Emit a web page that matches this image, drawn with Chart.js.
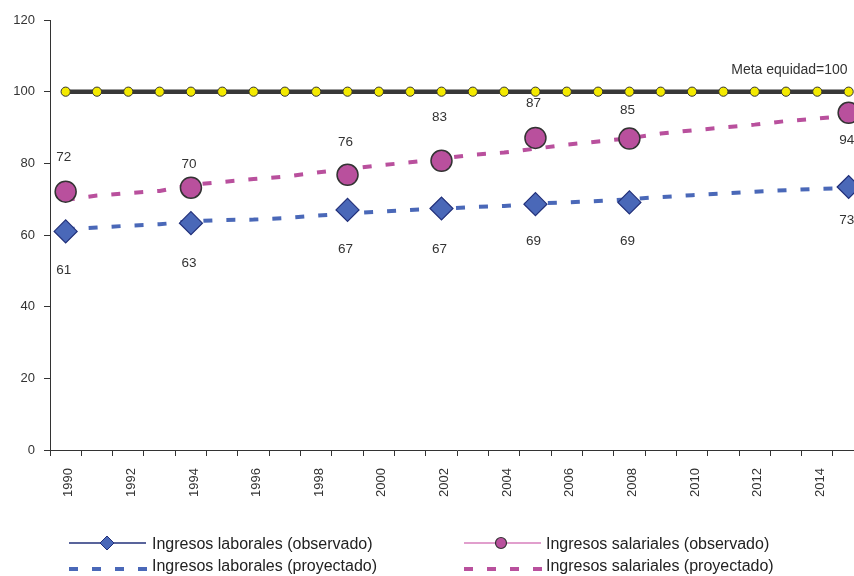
<!DOCTYPE html>
<html>
<head>
<meta charset="utf-8">
<script src="https://cdn.jsdelivr.net/npm/chart.js@4.4.1/dist/chart.umd.min.js"></script>
<style>
  html, body { margin: 0; padding: 0; background: #fff; overflow: hidden; }
  #wrap { width: 854px; height: 576px; overflow: hidden; }
  canvas { display: block; }
</style>
</head>
<body>
<div id="wrap"><canvas id="grafico" width="877" height="576"></canvas></div>
<script>
const anios = ["1990", "1991", "1992", "1993", "1994", "1995", "1996", "1997", "1998", "1999",
  "2000", "2001", "2002", "2003", "2004", "2005", "2006", "2007", "2008", "2009",
  "2010", "2011", "2012", "2013", "2014", "2015"];

const meta = [100, 100, 100, 100, 100, 100, 100, 100, 100, 100, 100, 100, 100,
  100, 100, 100, 100, 100, 100, 100, 100, 100, 100, 100, 100, 100];

const laboralesObs = [61.0, null, null, null, 63.3, null, null, null, null, 67.0,
  null, null, 67.4, null, null, 68.6, null, null, 69.1, null,
  null, null, null, null, null, 73.4];
const salarialesObs = [72.1, null, null, null, 73.2, null, null, null, null, 76.8,
  null, null, 80.7, null, null, 87.1, null, null, 86.9, null,
  null, null, null, null, null, 94.1];

const laboralesProy = [61.6, 62.1, 62.6, 63.0, 63.8, 64.2, 64.3, 64.7, 65.4, 66.0,
  66.5, 67.0, 67.3, 67.8, 68.1, 68.8, 69.1, 69.5, 70.0, 70.6,
  71.1, 71.6, 72.1, 72.5, 72.9, 73.1];
const salarialesProy = [69.8, 71.0, 71.7, 72.3, 74.0, 74.8, 75.6, 76.3, 77.4, 78.4,
  79.4, 80.3, 81.3, 82.4, 83.0, 84.1, 85.2, 86.1, 87.0, 88.3,
  89.2, 90.0, 90.8, 91.8, 92.5, 93.3];

// printed labels (as shown in the source, not always equal to the plotted value)
const etiquetasLaborales = [61, null, null, null, 63, null, null, null, null, 67,
  null, null, 67, null, null, 69, null, null, 69, null,
  null, null, null, null, null, 73];
const etiquetasSalariales = [72, null, null, null, 70, null, null, null, null, 76,
  null, null, 83, null, null, 87, null, null, 85, null,
  null, null, null, null, null, 94];

const ticksY = [0, 20, 40, 60, 80, 100, 120];

const AZUL = "#4a68b8";
const AZUL_BORDE = "#22307a";
const ROSA = "#b9509d";
const TEXTO = "#333333";
const FUENTE = '"Liberation Sans", Arial, sans-serif';

const etiquetasPlugin = {
  id: "etiquetas",
  afterDatasetsDraw(chart) {
    const { ctx, scales: { x, y } } = chart;
    const ultimo = anios.length - 1;
    ctx.save();
    ctx.font = "13.5px " + FUENTE;
    ctx.fillStyle = TEXTO;
    ctx.textAlign = "center";
    ctx.textBaseline = "middle";
    etiquetasLaborales.forEach((v, i) => {
      if (v === null) return;
      const dy = i === ultimo ? 32 : 39;
      ctx.fillText(String(v), x.getPixelForValue(i) - 2, y.getPixelForValue(v) + dy);
    });
    etiquetasSalariales.forEach((v, i) => {
      if (v === null) return;
      const dy = i === ultimo ? 27 : -35;
      ctx.fillText(String(v), x.getPixelForValue(i) - 2, y.getPixelForValue(v) + dy);
    });
    // meta label
    ctx.font = "14px " + FUENTE;
    ctx.textAlign = "right";
    ctx.fillText("Meta equidad=100", x.getPixelForValue(ultimo) - 1, y.getPixelForValue(meta[ultimo]) - 22);
    ctx.restore();
  }
};

const leyendaPlugin = {
  id: "leyenda",
  afterDraw(chart) {
    const ctx = chart.ctx;
    ctx.save();
    ctx.font = "16px " + FUENTE;
    ctx.fillStyle = "#222";
    ctx.textAlign = "left";
    ctx.textBaseline = "middle";

    // laborales observado
    ctx.strokeStyle = AZUL_BORDE;
    ctx.lineWidth = 1.5;
    ctx.beginPath(); ctx.moveTo(69, 543); ctx.lineTo(146, 543); ctx.stroke();
    ctx.beginPath();
    ctx.moveTo(107, 536); ctx.lineTo(114, 543); ctx.lineTo(107, 550); ctx.lineTo(100, 543); ctx.closePath();
    ctx.fillStyle = AZUL; ctx.fill();
    ctx.lineWidth = 1; ctx.stroke();
    ctx.fillStyle = "#222";
    ctx.fillText("Ingresos laborales (observado)", 152, 545);

    // salariales observado
    ctx.strokeStyle = "#d77fbd";
    ctx.lineWidth = 1.5;
    ctx.beginPath(); ctx.moveTo(464, 543); ctx.lineTo(541, 543); ctx.stroke();
    ctx.beginPath(); ctx.arc(501, 543, 5.5, 0, Math.PI * 2);
    ctx.fillStyle = ROSA; ctx.fill();
    ctx.strokeStyle = "#333"; ctx.lineWidth = 1.2; ctx.stroke();
    ctx.fillStyle = "#222";
    ctx.fillText("Ingresos salariales (observado)", 546, 545);

    // proyectados
    ctx.lineWidth = 4;
    ctx.setLineDash([9, 14]);
    ctx.strokeStyle = AZUL;
    ctx.beginPath(); ctx.moveTo(69, 569); ctx.lineTo(147, 569); ctx.stroke();
    ctx.strokeStyle = ROSA;
    ctx.beginPath(); ctx.moveTo(464, 569); ctx.lineTo(542, 569); ctx.stroke();
    ctx.setLineDash([]);
    ctx.fillText("Ingresos laborales (proyectado)", 152, 567);
    ctx.fillText("Ingresos salariales (proyectado)", 546, 567);
    ctx.restore();
  }
};

const ctx = document.getElementById("grafico").getContext("2d");
const grafico = new Chart(ctx, {
  type: "line",
  data: {
    labels: anios,
    datasets: [
      {
        label: "Meta equidad",
        data: meta,
        borderColor: "#383838",
        borderWidth: 4.5,
        pointRadius: 4.6,
        pointBackgroundColor: "#f4ea00",
        pointBorderColor: "#333",
        pointBorderWidth: 1,
        order: 2
      },
      {
        label: "Ingresos laborales (proyectado)",
        data: laboralesProy,
        borderColor: AZUL,
        borderWidth: 4,
        borderDash: [9, 14],
        pointRadius: 0,
        order: 3
      },
      {
        label: "Ingresos salariales (proyectado)",
        data: salarialesProy,
        borderColor: ROSA,
        borderWidth: 4,
        borderDash: [9, 14],
        pointRadius: 0,
        order: 3
      },
      {
        label: "Ingresos laborales (observado)",
        data: laboralesObs,
        showLine: false,
        pointStyle: "rectRot",
        pointRadius: 11.5,
        pointBackgroundColor: AZUL,
        pointBorderColor: AZUL_BORDE,
        pointBorderWidth: 1.2,
        order: 1
      },
      {
        label: "Ingresos salariales (observado)",
        data: salarialesObs,
        showLine: false,
        pointStyle: "circle",
        pointRadius: 10.5,
        pointBackgroundColor: ROSA,
        pointBorderColor: "#333",
        pointBorderWidth: 1.5,
        order: 1
      }
    ]
  },
  options: {
    responsive: false,
    animation: false,
    layout: { padding: { top: 20, bottom: 66, left: 0, right: 0 } },
    plugins: {
      legend: { display: false },
      tooltip: { enabled: false }
    },
    scales: {
      x: {
        offset: true,
        grid: { offset: true, drawOnChartArea: false, tickLength: 6, color: "#333" },
        border: { color: "#333", width: 1 },
        ticks: {
          autoSkip: false,
          minRotation: 90,
          maxRotation: 90,
          padding: 12,
          labelOffset: 3,
          color: TEXTO,
          font: { family: FUENTE, size: 13 },
          callback: (v, i) => (Number(anios[i]) % 2 === 0 ? anios[i] : "")
        },
        afterFit: (s) => { s.height = 60; }
      },
      y: {
        min: 0,
        max: 120,
        afterBuildTicks: (s) => { s.ticks = ticksY.map((v) => ({ value: v })); },
        grid: { drawOnChartArea: false, tickLength: 6, color: "#333" },
        border: { color: "#333", width: 1 },
        ticks: {
          padding: 9,
          color: TEXTO,
          font: { family: FUENTE, size: 13 }
        },
        afterFit: (s) => { s.width = 50; }
      }
    }
  },
  plugins: [etiquetasPlugin, leyendaPlugin]
});
</script>
</body>
</html>
